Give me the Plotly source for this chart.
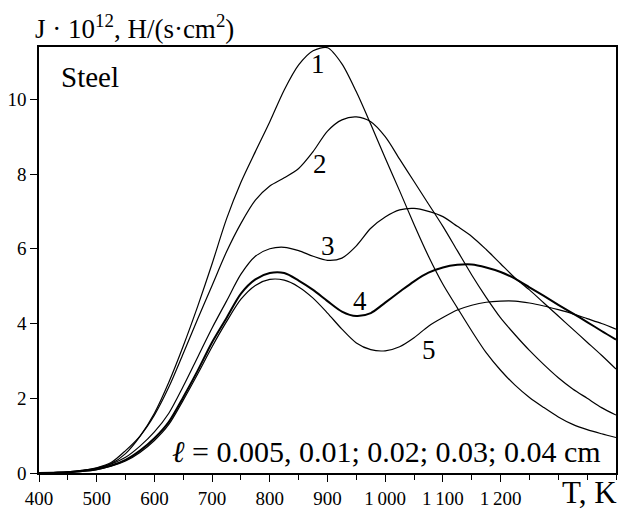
import plotly.graph_objects as go

# Temperature grid, K
temperature = [400 + 25 * i for i in range(41)]

# Flux density J*1e12, H/(s*cm^2), for each layer thickness
curve_1 = [0, 0.01, 0.03, 0.07, 0.13, 0.25, 0.52, 0.98, 1.6, 2.43, 3.4, 4.46, 5.6,
           6.8, 7.78, 8.6, 9.4, 10.25, 10.92, 11.3, 11.38, 10.95, 10.2, 9.33, 8.43,
           7.55, 6.65, 5.8, 5.05, 4.42, 3.8, 3.22, 2.75, 2.35, 2.02, 1.75, 1.5,
           1.3, 1.16, 1.05, 0.95]
curve_2 = [0, 0.01, 0.03, 0.07, 0.14, 0.28, 0.6, 0.99, 1.55, 2.3, 3.2, 4.12, 5.02,
           5.92, 6.68, 7.3, 7.68, 7.9, 8.15, 8.6, 9.15, 9.45, 9.53, 9.4, 9.0, 8.4,
           7.8, 7.2, 6.6, 5.95, 5.3, 4.7, 4.15, 3.7, 3.28, 2.9, 2.55, 2.25, 2.0,
           1.75, 1.55]
curve_3 = [0, 0.01, 0.02, 0.06, 0.12, 0.24, 0.42, 0.72, 1.1, 1.6, 2.32, 3.1, 3.88,
           4.6, 5.32, 5.8, 6.0, 6.04, 5.95, 5.8, 5.69, 5.75, 6.08, 6.55, 6.85, 7.04,
           7.08, 7.0, 6.86, 6.6, 6.33, 5.98, 5.6, 5.22, 4.9, 4.55, 4.2, 3.85, 3.5,
           3.15, 2.78]
curve_4 = [0, 0.01, 0.02, 0.05, 0.1, 0.2, 0.35, 0.6, 0.93, 1.37, 2.03, 2.74, 3.5,
           4.15, 4.8, 5.18, 5.35, 5.35, 5.15, 4.9, 4.6, 4.32, 4.2, 4.28, 4.56, 4.85,
           5.13, 5.36, 5.5, 5.57, 5.58, 5.5, 5.38, 5.2, 4.97, 4.74, 4.5, 4.27, 4.04,
           3.8, 3.57]
curve_5 = [0, 0.01, 0.02, 0.04, 0.09, 0.18, 0.32, 0.55, 0.87, 1.3, 1.95, 2.65, 3.38,
           4.05, 4.65, 5.02, 5.18, 5.16, 4.98, 4.68, 4.28, 3.85, 3.48, 3.3, 3.27,
           3.38, 3.62, 3.93, 4.16, 4.36, 4.49, 4.57, 4.6, 4.6, 4.55, 4.47, 4.37,
           4.26, 4.13, 4.0, 3.85]

series = [curve_1, curve_2, curve_3, curve_4, curve_5]
line_widths = [1.2, 1.2, 1.2, 2.0, 1.2]

# Curve numbers and where they sit (T, J)
curve_labels = ["1", "2", "3", "4", "5"]
label_t = [884, 887, 901, 956, 1076]
label_j = [10.95, 8.26, 6.07, 4.6, 3.3]

x_tick_vals = [400, 500, 600, 700, 800, 900, 1000, 1100, 1200]
x_tick_text = ["400", "500", "600", "700", "800", "900",
               "1\u202f000", "1\u202f100", "1\u202f200"]
y_tick_vals = [0, 2, 4, 6, 8, 10]

FONT = "Liberation Serif"

fig = go.Figure()
for ys, w in zip(series, line_widths):
    fig.add_trace(go.Scatter(
        x=temperature, y=ys, mode="lines",
        line=dict(color="black", width=w, shape="spline", smoothing=0.8),
        showlegend=False, hoverinfo="skip",
    ))

for txt, tx, ty in zip(curve_labels, label_t, label_j):
    fig.add_annotation(x=tx, y=ty, text=txt, showarrow=False,
                       font=dict(family=FONT, size=27, color="black"))

fig.add_annotation(xref="paper", yref="paper", x=-0.011, y=1.048,
                   xanchor="left", yanchor="middle", showarrow=False,
                   text="J · 10<sup>12</sup>, H/(s·cm<sup>2</sup>)",
                   font=dict(family=FONT, size=27, color="black"))
fig.add_annotation(xref="paper", yref="paper", x=0.034, y=0.93,
                   xanchor="left", yanchor="middle", showarrow=False,
                   text="Steel", font=dict(family=FONT, size=29, color="black"))
fig.add_annotation(xref="paper", yref="paper", x=0.977, y=0.05,
                   xanchor="right", yanchor="middle", showarrow=False,
                   text="<i>ℓ</i> = 0.005, 0.01; 0.02; 0.03; 0.04 cm",
                   font=dict(family=FONT, size=30, color="black"))
fig.add_annotation(xref="paper", yref="paper", x=1.006, y=-0.045,
                   xanchor="right", yanchor="middle", showarrow=False,
                   text="T, K", font=dict(family=FONT, size=31, color="black"))

fig.update_xaxes(
    range=[400, 1400], tickmode="array", tickvals=x_tick_vals, ticktext=x_tick_text,
    ticks="outside", ticklen=7, tickwidth=1.2, tickcolor="black",
    minor=dict(dtick=50, tick0=400, ticks="outside", ticklen=5, tickwidth=1, tickcolor="black"),
    showline=True, linecolor="black", linewidth=1.5, mirror=True,
    showgrid=False, zeroline=False,
    tickfont=dict(family=FONT, size=19, color="black"),
)
fig.update_yaxes(
    range=[0, 11.4], tickmode="array", tickvals=y_tick_vals,
    ticks="outside", ticklen=7, tickwidth=1.2, tickcolor="black",
    showline=True, linecolor="black", linewidth=1.5, mirror=True,
    showgrid=False, zeroline=False,
    tickfont=dict(family=FONT, size=19, color="black"),
)

fig.update_layout(
    width=624, height=515,
    margin=dict(l=39, r=6, t=47, b=31),
    paper_bgcolor="white", plot_bgcolor="white",
    font=dict(family=FONT, color="black"),
)

fig.write_html("out.html")
